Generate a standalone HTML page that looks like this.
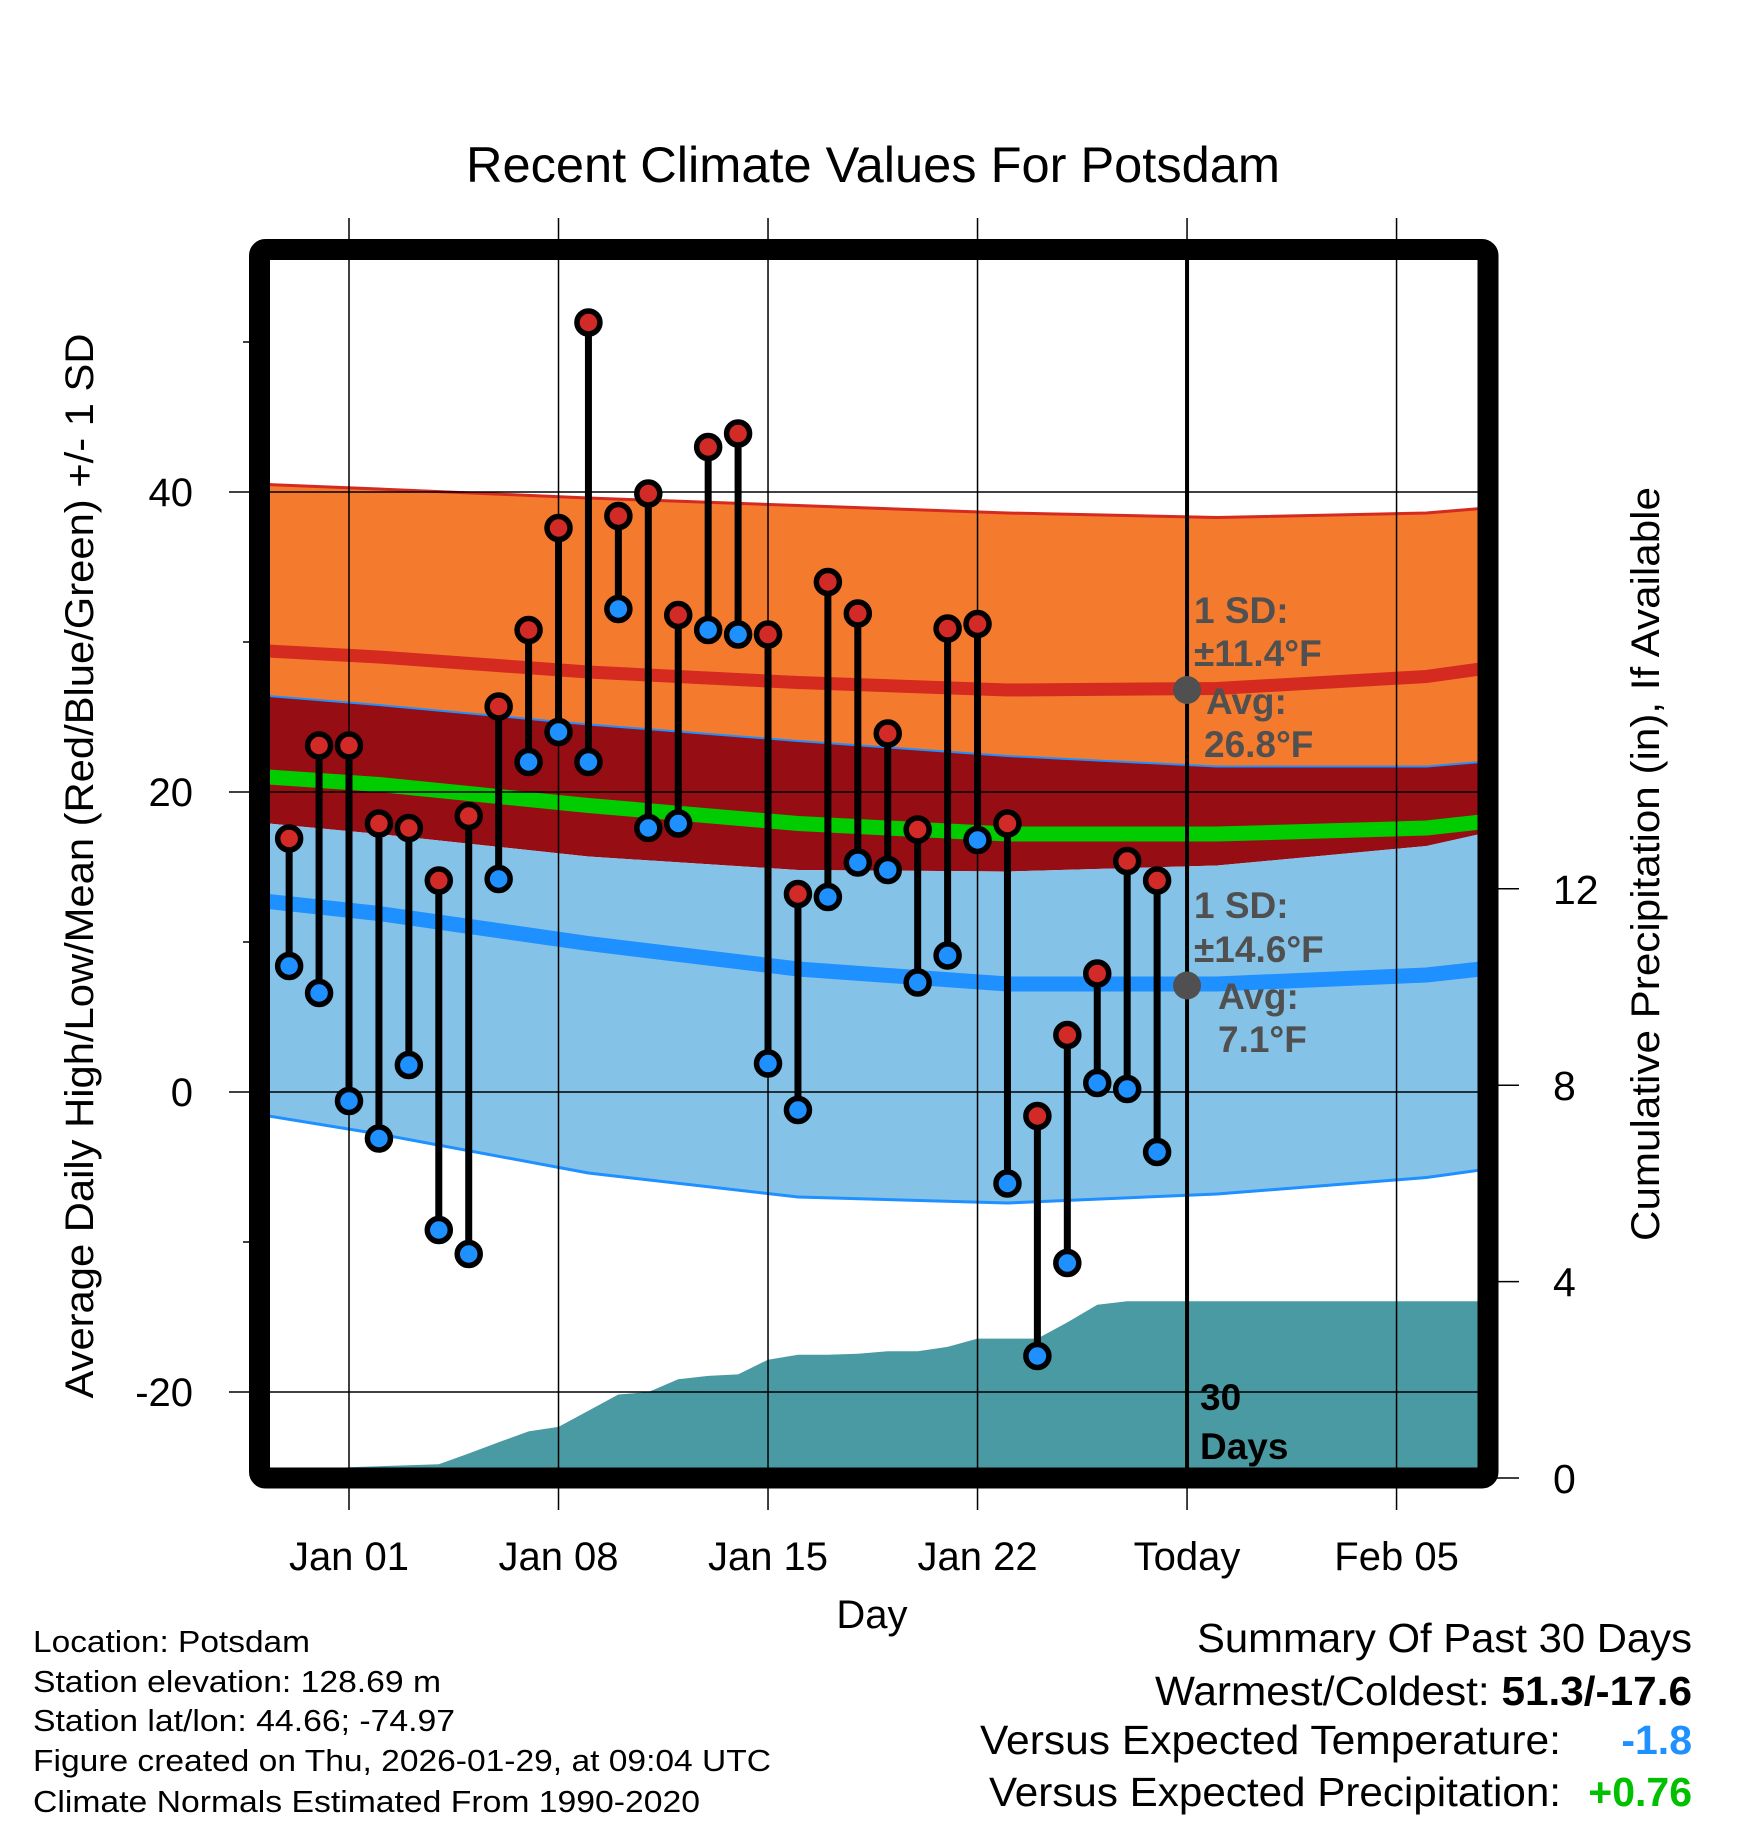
<!DOCTYPE html>
<html><head><meta charset="utf-8"><style>
html,body{margin:0;padding:0;background:#fff;}
svg{display:block;font-family:"Liberation Sans",Arial,sans-serif;}
</style></head><body>
<svg id="chart" width="1748" height="1828" viewBox="0 0 1748 1828" xmlns="http://www.w3.org/2000/svg">
<defs><clipPath id="plotclip"><rect x="270" y="260" width="1208" height="1208"/></clipPath></defs>
<g id="plot" clip-path="url(#plotclip)"></g>
<g id="axes"></g>
<rect x="259.5" y="249.5" width="1228.5" height="1228.5" fill="none" stroke="#000" stroke-width="21" stroke-linejoin="round" rx="6"/>
<text x="873" y="182" font-size="50" text-anchor="middle" textLength="814" lengthAdjust="spacingAndGlyphs">Recent Climate Values For Potsdam</text>
<text x="872" y="1628" font-size="40" text-anchor="middle">Day</text>
<text transform="translate(93,866) rotate(-90)" font-size="40" text-anchor="middle" textLength="1065" lengthAdjust="spacingAndGlyphs">Average Daily High/Low/Mean (Red/Blue/Green) +/- 1 SD</text>
<text transform="translate(1659,864) rotate(-90)" font-size="40" text-anchor="middle" textLength="754" lengthAdjust="spacingAndGlyphs">Cumulative Precipitation (in), If Available</text>
<g font-size="31">
<text x="33" y="1652" textLength="277" lengthAdjust="spacingAndGlyphs">Location: Potsdam</text>
<text x="33" y="1692" textLength="408" lengthAdjust="spacingAndGlyphs">Station elevation: 128.69 m</text>
<text x="33" y="1731" textLength="422" lengthAdjust="spacingAndGlyphs">Station lat/lon: 44.66; -74.97</text>
<text x="33" y="1771" textLength="738" lengthAdjust="spacingAndGlyphs">Figure created on Thu, 2026-01-29, at 09:04 UTC</text>
<text x="33" y="1812" textLength="667" lengthAdjust="spacingAndGlyphs">Climate Normals Estimated From 1990-2020</text>
</g>
<g font-size="41">
<text x="1692" y="1652" text-anchor="end" textLength="495" lengthAdjust="spacingAndGlyphs">Summary Of Past 30 Days</text>
<text x="1692" y="1705" text-anchor="end" textLength="537" lengthAdjust="spacingAndGlyphs">Warmest/Coldest: <tspan font-weight="bold">51.3/-17.6</tspan></text>
<text x="1561" y="1754" text-anchor="end" textLength="581" lengthAdjust="spacingAndGlyphs">Versus Expected Temperature:</text>
<text x="1692" y="1754" text-anchor="end" font-weight="bold" fill="#1e90ff">-1.8</text>
<text x="1561" y="1806" text-anchor="end" textLength="572" lengthAdjust="spacingAndGlyphs">Versus Expected Precipitation:</text>
<text x="1692" y="1806" text-anchor="end" font-weight="bold" fill="#00c000">+0.76</text>
</g>
<script>
const days=[-2,-1,0,1,2,3,4,5,6,7,8,9,10,11,12,13,14,15,16,17,18,19,20,21,22,23,24,25,26,27,28];
const highs=[16.9,23.1,23.1,17.9,17.6,14.1,18.4,25.7,30.8,37.6,51.3,38.4,39.9,31.8,43.0,43.9,30.5,13.2,34.0,31.9,23.9,17.5,30.9,31.2,17.9,-1.6,3.8,7.9,15.4,14.1];
const lows=[8.4,6.6,-0.6,-3.1,1.8,-9.2,-10.8,14.2,22.0,24.0,22.0,32.2,17.6,17.9,30.8,30.5,1.9,-1.2,13.0,15.3,14.8,7.3,9.1,16.8,-6.1,-17.6,-11.4,0.6,0.2,-4.0];
const precipDays=[-2.7,-0.6,-0.4,0,1,2,3,4,5,6,7,8,9,10,11,12,13,14,15,16,17,18,19,20,21,22,23,24,25,26,27,28,38];
const precip=[0.0,0.0,0.2,0.22,0.24,0.26,0.28,0.50,0.73,0.95,1.04,1.37,1.70,1.75,2.01,2.08,2.11,2.41,2.51,2.51,2.53,2.58,2.58,2.67,2.84,2.84,2.84,3.17,3.53,3.60,3.60,3.60,3.60];
const climDays=[-2.7,1,8,15,22,29,36,37.8];
const hiTop=[40.5,40.2,39.6,39.1,38.6,38.3,38.6,38.9];
const hiAvg=[29.4,29.0,28.0,27.3,26.8,26.9,27.7,28.2];
const hiBot=[26.4,25.8,24.5,23.4,22.4,21.7,21.7,22.0];
const meanT=[21.0,20.5,19.1,17.9,17.2,17.2,17.6,18.0];
const loTop=[17.9,17.2,15.7,14.8,14.7,15.1,16.4,17.2];
const loAvg=[12.7,11.9,9.9,8.2,7.2,7.2,7.8,8.2];
const loBot=[-1.6,-2.8,-5.4,-7.0,-7.4,-6.8,-5.7,-5.2];
const xTickDays=[0,7,14,21,28,35];
const xTickLabels=["Jan 01","Jan 08","Jan 15","Jan 22","Today","Feb 05"];
const yTicks=[-20,0,20,40];
const yMinor=[-10,10,30,50];
const pTicks=[0,4,8,12];
const todayDay=28;

const NS="http://www.w3.org/2000/svg";
const X=d=>349+29.93*d;
const Y=t=>1092-15.0*t;
const YP=p=>1478-49.1*p;
function mk(tag,attrs,parent){const e=document.createElementNS(NS,tag);for(const k in attrs)e.setAttribute(k,attrs[k]);parent.appendChild(e);return e;}
const plot=document.getElementById('plot');
const axes=document.getElementById('axes');
const line=arr=>climDays.map((d,i)=>X(d).toFixed(1)+','+Y(arr[i]).toFixed(1));
function band(top,bot,fill,name){
  const pts=line(top).concat(line(bot).reverse());
  const p=mk('polygon',{points:pts.join(' '),fill:fill},plot);
  
  
}
band(hiTop,hiBot,'#f47a2e','high-sd-band');
band(hiBot,loTop,'#970d14','overlap-band');
band(loTop,loBot,'#84c2e8','low-sd-band');
function pl(arr,color,w,name){
  const p=mk('polyline',{points:line(arr).join(' '),fill:'none',stroke:color,'stroke-width':w},plot);
  
  
}
pl(hiTop,'#d42a20',3,'high-plus-sd-line');
pl(hiBot,'#1e90ff',2,'low-plus-sd-line');
pl(loBot,'#1e90ff',3,'low-minus-sd-line');
pl(hiAvg,'#d42a20',13,'average-high-line');
pl(meanT,'#00cc00',15,'average-mean-line');
pl(loAvg,'#1e90ff',15,'average-low-line');
{
  const pts=precipDays.map((d,i)=>X(d).toFixed(1)+','+YP(precip[i]).toFixed(1));
  pts.push(X(38)+',1500',X(-2.7)+',1500');
  const p=mk('polygon',{points:pts.join(' '),fill:'#4a9aa3'},plot);
  
  
}
xTickDays.forEach((d,i)=>{
  const g=mk('line',{x1:X(d),x2:X(d),y1:218,y2:1510,stroke:'#000','stroke-width':1.5},axes);
  
  
  const t=mk('text',{x:X(d),y:1570,'font-size':40,'text-anchor':'middle'},axes);
  t.textContent=xTickLabels[i];
  
  
});
yTicks.forEach(v=>{
  const g=mk('line',{x1:229,x2:1478,y1:Y(v),y2:Y(v),stroke:'#000','stroke-width':1.5},axes);
  
  
  const t=mk('text',{x:193,y:Y(v)+14,'font-size':40,'text-anchor':'end'},axes);
  t.textContent=v;
  
  
});
yMinor.forEach(v=>{
  const g=mk('line',{x1:243,x2:250,y1:Y(v),y2:Y(v),stroke:'#000','stroke-width':1.5},axes);
  
  
});
pTicks.forEach(v=>{
  const g=mk('line',{x1:1488,x2:1519,y1:YP(v),y2:YP(v),stroke:'#000','stroke-width':1.5},axes);
  
  
  const t=mk('text',{x:1553,y:YP(v)+15,'font-size':41},axes);
  t.textContent=v;
  
  
});
{
  const g=mk('line',{x1:X(todayDay),x2:X(todayDay),y1:260,y2:1470,stroke:'#000','stroke-width':4},axes);
  
  
}
function txt(x,y,s,size,fill,name){
  const t=mk('text',{x:x,y:y,'font-size':size,'font-weight':'bold',fill:fill},axes);
  t.textContent=s;
  
  
}
const tx=X(todayDay);
[26.8,7.1].forEach((v,i)=>{
  const c=mk('circle',{cx:tx,cy:Y(v),r:14,fill:'#505050'},axes);
  
  
});
txt(1194,623,'1 SD:',37,'#505050','high-sd-label');
txt(1194,666,'±11.4°F',37,'#505050','high-sd-value');
txt(1206,714,'Avg:',37,'#505050','high-avg-label');
txt(1204,757,'26.8°F',37,'#505050','high-avg-value');
txt(1194,918,'1 SD:',37,'#505050','low-sd-label');
txt(1194,962,'±14.6°F',37,'#505050','low-sd-value');
txt(1218,1009,'Avg:',37,'#505050','low-avg-label');
txt(1218,1052,'7.1°F',37,'#505050','low-avg-value');
txt(1200,1410,'30',37,'#000','period-label-number');
txt(1200,1459,'Days',37,'#000','period-label-days');
days.forEach((d,i)=>{
  if(i>=highs.length)return;
  const s=mk('line',{x1:X(d),x2:X(d),y1:Y(highs[i]),y2:Y(lows[i]),stroke:'#000','stroke-width':7},axes);
  
  
});
days.forEach((d,i)=>{
  if(i>=highs.length)return;
  const h=mk('circle',{cx:X(d),cy:Y(highs[i]),r:11.5,fill:'#d22a26',stroke:'#000','stroke-width':5.5},axes);
  
  
  const l=mk('circle',{cx:X(d),cy:Y(lows[i]),r:11.5,fill:'#1e90ff',stroke:'#000','stroke-width':5.5},axes);
  
  
});
</script>
</svg>
</body></html>
